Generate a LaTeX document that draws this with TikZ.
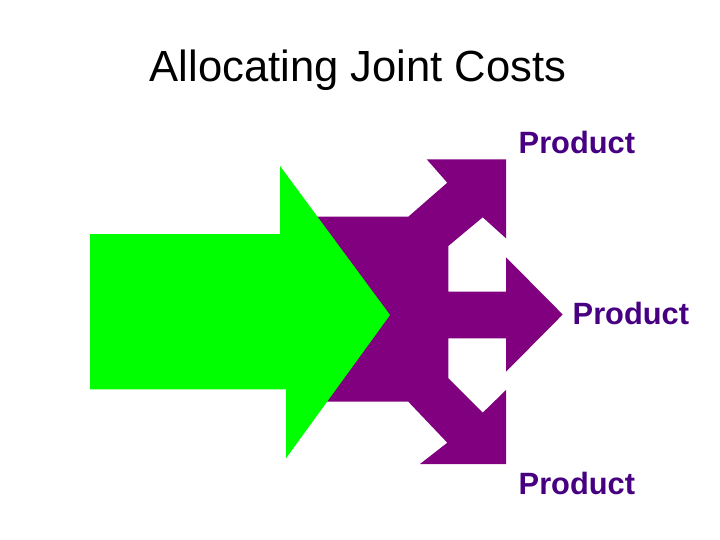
\documentclass[tikz,border=0pt]{standalone}
\usepackage{fontspec}
\setmainfont{Liberation Sans}
\definecolor{arrowgreen}{RGB}{0,255,0}
\definecolor{arrowpurple}{RGB}{128,0,128}
\definecolor{labelpurple}{RGB}{72,0,130}
\begin{document}
\begin{tikzpicture}[x=1pt,y=-1pt,
  lbl/.style={anchor=base west,inner sep=0pt,text=labelpurple,font=\fontsize{30.8}{36}\selectfont\bfseries},
  ttl/.style={anchor=base west,inner sep=0pt,text=black,font=\fontsize{43.6}{50}\selectfont}]
\useasboundingbox (0,0) rectangle (720,540);
\fill[white] (0,0) rectangle (720,540);
% purple splitting arrow
\fill[arrowpurple] (300,216.7) -- (408.3,216.7) -- (447.3,182.7) -- (426.7,159.3) -- (506,159.3) -- (506,238.3)
  -- (482.7,217.3) -- (448.3,246) -- (448.3,291.7) -- (506,291.7) -- (506,257.3) -- (562.7,314.5)
  -- (506,371.7) -- (506,338.3) -- (448.3,338.3) -- (448.3,378.3) -- (482.7,412.7) -- (506,390)
  -- (506,464) -- (420,464) -- (447.3,442.7) -- (408.3,401.7) -- (300,401.7) -- cycle;
% green input arrow
\fill[arrowgreen] (90,234) -- (280,234) -- (280,166) -- (390,315) -- (286,458.3) -- (286,389.3) -- (90,389.3) -- cycle;
\node[ttl] (title) at (149.5,82) {Allocating Joint Costs};
\node[lbl] (p1) at (518.5,154) {Product};
\node[lbl] (p2) at (572.5,324) {Product};
\node[lbl] (p3) at (518.5,494) {Product};
\end{tikzpicture}
\end{document}
